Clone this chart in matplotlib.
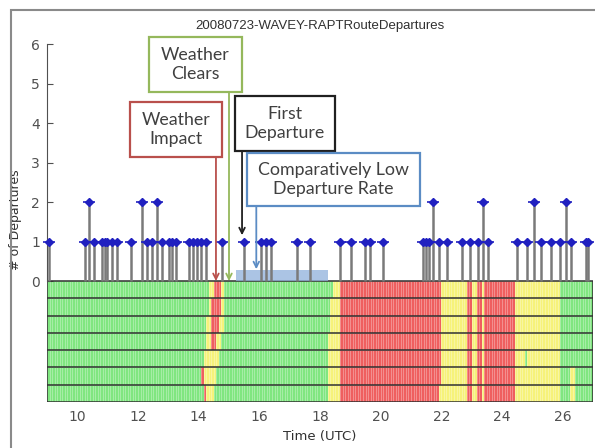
import matplotlib
matplotlib.use("Agg")
import matplotlib.pyplot as plt
import numpy as np
from matplotlib.colors import ListedColormap, BoundaryNorm
from matplotlib.patches import Rectangle

# departures: hour (UTC) and count
dep_hours = [9.05, 10.25, 10.38, 10.55, 10.81, 10.91, 10.98, 11.13, 11.32, 11.76,
             12.12, 12.29, 12.45, 12.62, 12.78, 13.01, 13.11, 13.26, 13.68, 13.81,
             13.94, 14.09, 14.24, 14.77, 15.50, 16.06, 16.23, 16.39, 17.25, 17.68,
             18.65, 19.01, 19.47, 19.66, 20.07, 21.39, 21.49, 21.59, 21.73, 21.92,
             22.19, 22.69, 22.95, 23.22, 23.38, 23.55, 24.51, 24.84, 25.07, 25.27,
             25.63, 25.90, 26.10, 26.26, 26.76, 26.82]
dep_counts = [1, 1, 2, 1, 1, 1, 1, 1, 1, 1,
              2, 1, 1, 2, 1, 1, 1, 1, 1, 1,
              1, 1, 1, 1, 1, 1, 1, 1, 1, 1,
              1, 1, 1, 1, 1, 1, 1, 1, 2, 1,
              1, 1, 1, 1, 2, 1, 1, 1, 2, 1,
              1, 1, 2, 1, 1, 1]

# weather state along the route, one list per row (top to bottom)
# (start hour, end hour, state) with 0 = green, 1 = yellow, 2 = red
common_late = [(22.0, 22.8, 1), (22.8, 23.0, 2), (23.0, 23.15, 1), (23.15, 23.3, 2),
               (23.3, 23.45, 1), (23.45, 24.4, 2), (24.4, 25.9, 1)]
wx_rows = [
    [(14.33, 14.5, 1), (14.5, 14.75, 2), (14.75, 14.83, 1),
     (18.42, 18.67, 1), (18.67, 22.0, 2)] + common_late,
    [(14.33, 14.45, 1), (14.45, 14.72, 2), (14.72, 14.83, 1),
     (18.33, 18.67, 1), (18.67, 22.0, 2)] + common_late,
    [(14.28, 14.4, 1), (14.4, 14.7, 2), (14.7, 14.83, 1),
     (18.33, 18.67, 1), (18.67, 22.0, 2)] + common_late,
    [(14.25, 14.38, 1), (14.38, 14.62, 2), (14.62, 14.72, 1),
     (18.25, 18.67, 1), (18.67, 22.0, 2)] + common_late,
    [(14.2, 14.67, 1),
     (18.25, 18.67, 1), (18.67, 22.0, 2)] + common_late + [(24.77, 24.87, 0)],
    [(14.12, 14.2, 2), (14.2, 14.56, 1),
     (18.25, 18.67, 1), (18.67, 22.0, 2)] + common_late + [(26.25, 26.45, 1)],
    [(14.15, 14.22, 2), (14.22, 14.5, 1),
     (18.25, 18.67, 1), (18.67, 21.95, 2)] + common_late[1:] + [(21.95, 22.8, 1), (26.25, 26.45, 1)],
]

low_rate_span = (15.23, 18.25)

fig = plt.figure(figsize=[5.95, 4.48], dpi=100)
ax = fig.add_axes([47 / 595, 46 / 448, 546 / 595, 358 / 448])

# weather grid
t_edges = np.arange(9.0, 27.0 + 1e-9, 1 / 12)
t_mid = (t_edges[:-1] + t_edges[1:]) / 2
grid = np.zeros((len(wx_rows), len(t_mid)))
for r, segs in enumerate(wx_rows):
    for s, e, v in segs:
        grid[r, (t_mid >= s) & (t_mid < e)] = v
bar_bottom = -3.06
y_edges = np.linspace(0, bar_bottom, len(wx_rows) + 1)
cmap = ListedColormap(['#80e680', '#f6f27a', '#ef5f5f'])
norm = BoundaryNorm([-0.5, 0.5, 1.5, 2.5], 3)
ax.pcolormesh(t_edges, y_edges, grid, cmap=cmap, norm=norm,
              edgecolors=(1, 1, 1, 0.3), linewidth=0.4)
ax.hlines(y_edges, 9, 27, color='#303030', lw=1.1)
ax.vlines([9, 27], bar_bottom, 0, color='#303030', lw=1.1)

# low departure rate span
ax.add_patch(Rectangle((low_rate_span[0], 0), low_rate_span[1] - low_rate_span[0], 0.28,
                       facecolor='#8fb1dc', alpha=0.75, edgecolor='none', zorder=2))

# stems
ax.vlines(dep_hours, 0, dep_counts, color='#7a7a7a', lw=1.8, zorder=3)
ax.plot(dep_hours, dep_counts, 'D', color='#2020c0', ms=4, zorder=4, clip_on=False)
ax.plot(dep_hours, dep_counts, '_', color='#2020c0', ms=8, mew=1.2, zorder=4, clip_on=False)

ax.set_xlim(9, 27)
ax.set_ylim(bar_bottom, 6)
ax.set_yticks(range(0, 7))
ax.set_xticks(range(10, 27, 2))
for s in ['top', 'right', 'bottom']:
    ax.spines[s].set_visible(False)
ax.spines['left'].set_bounds(0, 6)
ax.spines['left'].set_color('#505050')
ax.tick_params(axis='y', direction='in', length=4, colors='#505050', labelsize=10, pad=5)
ax.tick_params(axis='x', length=0, colors='#505050', labelsize=10, pad=6)
ax.set_xlabel('Time (UTC)', fontsize=9.5, color='#303030', labelpad=4)
ax.set_ylabel('# of Departures', fontsize=9, color='#303030')
ax.yaxis.set_label_coords(-0.046, 0.51)
ax.set_title('20080723-WAVEY-RAPTRouteDepartures', fontsize=9.5, color='#303030',
             family='Liberation Sans', pad=11)

# annotation boxes
boxes = [
    ('Weather\nClears', (12.35, 4.78, 3.08, 1.40), '#95b85c', 15.0, 0.0),
    ('Weather\nImpact', (11.72, 3.14, 3.05, 1.39), '#b9504c', 14.57, 0.0),
    ('First\nDeparture', (15.2, 3.29, 3.28, 1.39), '#202020', 15.43, 1.16),
    ('Comparatively Low\nDeparture Rate', (15.6, 1.9, 5.7, 1.34), '#5b8cc4', 15.9, 0.3),
]
for label, (x0, y0, w, h), col, ax_x, tip in boxes:
    ax.add_patch(Rectangle((x0, y0), w, h, facecolor='white', edgecolor=col, lw=1.6,
                           zorder=6, clip_on=False))
    ax.text(x0 + w / 2, y0 + h / 2, label, ha='center', va='center', fontsize=12.8,
            family='Lato', color='#404040', linespacing=1.25, zorder=7)
    ax.annotate('', xy=(ax_x, tip), xytext=(ax_x, y0),
                arrowprops=dict(arrowstyle='->', color=col, lw=1.3, shrinkA=0, shrinkB=0),
                zorder=5)

# outer frame of the figure
fig.add_artist(Rectangle((11 / 595, -0.1), 1.2, 1.1 - 10 / 448, transform=fig.transFigure,
                         facecolor='none', edgecolor='#8a8a8a', lw=1.5))

fig.savefig('out.png', dpi=100)
